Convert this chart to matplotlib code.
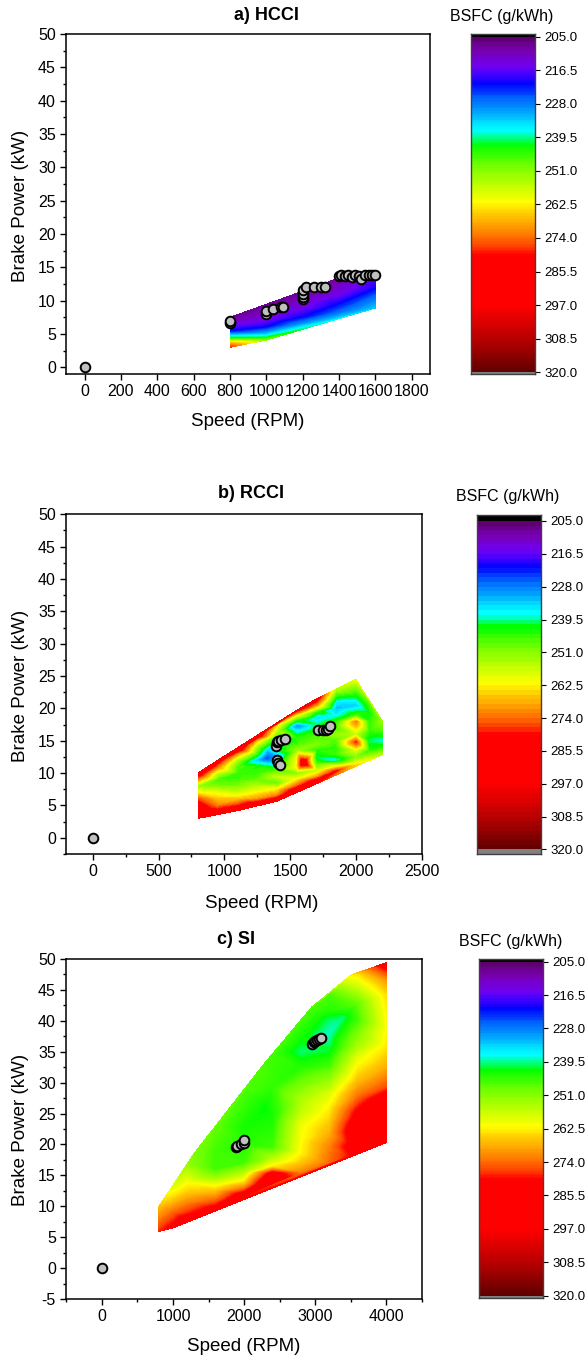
import numpy as np
import matplotlib
matplotlib.use('Agg')
import matplotlib.pyplot as plt
import matplotlib.tri as mtri
from matplotlib.colors import LinearSegmentedColormap, Normalize
from matplotlib.ticker import MultipleLocator, FixedLocator

plt.rcParams['font.family'] = 'Liberation Sans'
plt.rcParams['axes.unicode_minus'] = False

# ---------------- colour scale (BSFC, g/kWh) ----------------
cb_ticks = [205.0, 216.5, 228.0, 239.5, 251.0, 262.5, 274.0, 285.5, 297.0, 308.5, 320.0]
cmap_vals = [205, 210, 215, 218, 221, 226, 231, 235, 237, 239.5, 242, 249, 256, 261.5,
             266, 271, 276, 280, 297, 305, 312, 320]
cmap_cols = ['#5c0068', '#7800b4', '#7000f0', '#4000ff', '#0000ff', '#0064ff', '#00a8ff',
             '#00e8ff', '#00ffff', '#00ff90', '#00ff00', '#70ff00', '#c0ff00', '#ffff00',
             '#ffc800', '#ff9000', '#ff5000', '#ff0000', '#ff0000', '#d00000', '#a00000',
             '#600000']

# ---------------- a) HCCI ----------------
hcci_speed = [800] * 8 + [1000] * 6 + [1200] * 5 + [1400] * 5 + [1600] * 4
hcci_power = [3.0, 3.4, 3.85, 4.35, 4.85, 5.35, 6.1, 7.5,
              4.1, 4.5, 5.0, 6.0, 7.0, 9.3,
              5.7, 6.5, 7.5, 9.0, 11.2,
              7.35, 8.2, 9.5, 11.0, 13.4,
              8.9, 10.5, 12.0, 14.0]
hcci_bsfc = [278, 272, 262, 243, 233, 222, 216, 208,
             250, 241, 233, 221, 215, 208,
             240, 230, 221, 214, 208,
             234, 227, 221, 214, 209,
             233, 227, 220, 215]
hcci_op_speed = [0, 800, 800, 1000, 1000, 1035, 1080, 1090, 1200, 1200, 1200, 1200, 1220, 1260,
                 1300, 1320, 1400, 1410, 1430, 1450, 1470, 1490, 1510, 1520, 1540, 1565,
                 1580, 1595]
hcci_op_power = [0, 6.6, 7.0, 8.0, 8.4, 8.75, 9.0, 9.1, 10.3, 10.6, 11.0, 11.6, 12.0, 12.0,
                 12.1, 12.1, 13.7, 13.8, 13.7, 13.8, 13.6, 13.8, 13.7, 13.2, 13.9, 13.9,
                 13.8, 13.9]

# ---------------- b) RCCI ----------------
rcci_speed = ([800] * 8 + [950] * 9 + [1100] * 11 + [1250] * 12 + [1320, 1330]
              + [1400] * 13 + [1550] * 14 + [1600] + [1700] * 14 + [1850] * 14
              + [2000] * 11 + [2100] * 7 + [2200] * 5)
rcci_power = [3, 4, 5, 6, 7, 8, 9, 10,
              3.7, 5, 6, 7, 8, 9, 10, 11, 12,
              4.2, 5, 6, 7, 8, 9, 10, 11, 12, 13, 13.8,
              5.0, 6, 7, 8, 9, 10, 11, 12, 13, 14, 15, 15.8,
              12.3, 13.5,
              5.65, 6.5, 7.5, 8.5, 9.5, 10.5, 11.5, 12.5, 13.5, 14.5, 15.5, 16.5, 17.5,
              7.2, 8, 9, 10, 11, 12.5, 13.5, 14.5, 15.5, 16.5, 17.3, 18.2, 19, 19.7,
              11.6,
              8.75, 9.5, 10.5, 11.5, 12.5, 13.5, 14.5, 15.5, 16.5, 17.5, 18.5, 19.5, 20.5, 21.5,
              10.3, 11, 12, 13, 14, 15, 16, 17, 18, 19, 20, 21, 22, 23,
              11.4, 12.5, 13.5, 14.8, 16, 17.9, 19, 20.5, 22, 23.5, 24.5,
              12.1, 13.5, 15, 16.5, 18, 19.5, 21.1,
              12.85, 14, 15, 16.5, 18]
rcci_bsfc = [292, 290, 284, 276, 262, 252, 270, 288,
             288, 272, 266, 260, 250, 246, 256, 272, 286,
             290, 278, 266, 257, 250, 246, 245, 247, 254, 270, 290,
             290, 270, 262, 255, 248, 245, 244, 232, 245, 252, 265, 288,
             224, 232,
             292, 272, 262, 248, 256, 246, 238, 230, 240, 238, 244, 255, 264,
             290, 275, 262, 250, 262, 260, 252, 246, 244, 236, 228, 244, 262, 282,
             290,
             285, 268, 255, 246, 240, 244, 250, 247, 244, 240, 234, 245, 270, 285,
             280, 262, 236, 246, 244, 247, 252, 246, 244, 236, 232, 236, 245, 255,
             262, 250, 258, 278, 256, 272, 245, 233, 242, 252, 260,
             258, 244, 240, 245, 244, 242, 248,
             255, 243, 238, 246, 252]
rcci_op_speed = [0, 1390, 1400, 1410, 1430, 1460, 1400, 1410, 1420, 1710, 1750, 1770, 1790, 1800]
rcci_op_power = [0, 14.2, 14.8, 15.0, 15.1, 15.3, 12.0, 11.6, 11.3, 16.6, 16.6, 16.7, 16.8, 17.3]

# ---------------- c) SI ----------------
si_speed = ([800] * 3 + [1000] * 4 + [1200] * 6 + [1300] + [1600] * 8 + [2000] * 9
            + [2250] * 2 + [2300] + [2400] * 8 + [2800] * 12 + [2950] + [3200] * 13
            + [3400] + [3500] * 2 + [3600] * 13 + [4000] * 12)
si_power = [5.9, 8, 10,
            6.5, 9, 11, 13.3,
            7.6, 8.9, 10.5, 12.1, 13.8, 16.8,
            18.6,
            9.7, 11, 12.5, 13.5, 14.5, 16, 19, 22.9,
            11.9, 13, 14, 15.5, 17, 20, 23, 26, 28.8,
            13.2, 32.6,
            26,
            14, 15.3, 16.4, 17.9, 19.5, 24.5, 29.3, 34.6,
            15.4, 17.0, 18.6, 20.8, 23, 25.2, 27.3, 29.5, 32.5, 35, 37.5, 40.0,
            42.2,
            16.9, 19.6, 21.8, 24, 26.1, 28.3, 30.4, 33.1, 35.3, 38, 40, 41.7, 44.5,
            40.5,
            18.1, 47.4,
            18.5, 19.6, 22.3, 25, 27.6, 30.2, 33.7, 35.8, 38, 40.1, 42.8, 45, 47.7,
            20.3, 20.7, 23.9, 27.2, 29.3, 32.6, 35.8, 39, 41.7, 44.4, 46.6, 49.4]
si_bsfc = [278, 272, 266,
           282, 274, 266, 258,
           285, 278, 272, 266, 261, 252,
           250,
           282, 274, 266, 260, 253, 246, 246, 248,
           284, 272, 263, 254, 246, 244, 243, 245, 247,
           288, 247,
           242,
           288, 284, 263, 254, 246, 243, 245, 246,
           272, 266, 262, 261, 260, 256, 254, 250, 244, 240, 243, 246,
           247,
           274, 272, 268, 265, 262, 258, 252, 245, 241, 238, 240, 244, 247,
           240,
           280, 262,
           282, 286, 288, 282, 274, 267, 260, 254, 250, 246, 248, 255, 264,
           285, 288, 288, 286, 276, 268, 263, 261, 262, 264, 270, 285]
si_op_speed = [0, 1880, 1900, 1950, 2000, 2005, 2950, 2980, 3000, 3030, 3060, 3080]
si_op_power = [0, 19.6, 19.8, 20.0, 20.2, 20.7, 36.3, 36.5, 36.7, 36.9, 37.1, 37.3]

W, H = 585, 1360
cmap = LinearSegmentedColormap.from_list(
    'bsfc', list(zip([(v - 205) / 115 for v in cmap_vals], cmap_cols)))
norm = Normalize(205, 320)

fig = plt.figure(figsize=(W / 100, H / 100), dpi=100)


def rect(l, t, r, b):
    return [l / W, 1 - b / H, (r - l) / W, (b - t) / H]


def put(x, y, s, **kw):
    fig.text(x / W, 1 - y / H, s, ha='center', va='center', **kw)


def panel(ax_box, cb_box, sp, pw, bs, op_s, op_p, nlev, xlim, ylim, xmaj, xmin, cb_lim,
          title, title_xy, bsfc_xy, xlab_xy, ylab_xy):
    ax = fig.add_axes(rect(*ax_box))
    # triangulate in axis-scaled units, then contour in data units
    sp = np.asarray(sp, float)
    pw = np.asarray(pw, float)
    kx = (ax_box[2] - ax_box[0]) / (xlim[1] - xlim[0])
    ky = (ax_box[3] - ax_box[1]) / (ylim[1] - ylim[0])
    tri_px = mtri.Triangulation(sp * kx, pw * ky)
    tri = mtri.Triangulation(sp, pw, triangles=tri_px.triangles)
    levels = np.linspace(205, 320, nlev + 1)
    ax.tricontourf(tri, bs, levels=levels, cmap=cmap, norm=norm)
    ax.scatter(op_s, op_p, s=48, facecolor='#c0c0c0', edgecolor='black', linewidth=1.4,
               zorder=5, clip_on=False)
    ax.set_xlim(*xlim)
    ax.set_ylim(*ylim)
    ax.xaxis.set_major_locator(MultipleLocator(xmaj))
    if xmin:
        ax.xaxis.set_minor_locator(MultipleLocator(xmin))
    ax.yaxis.set_major_locator(MultipleLocator(5))
    ax.yaxis.set_minor_locator(MultipleLocator(2.5))
    ax.tick_params(which='major', direction='out', length=4, width=1, labelsize=11.5, pad=3.5)
    ax.tick_params(which='minor', direction='out', length=2.3, width=1)
    for sp_ in ax.spines.values():
        sp_.set_linewidth(1.1)

    # colour bar drawn as a plain axes so the end strips can be shown
    cax = fig.add_axes(rect(*cb_box))
    edges = levels if nlev < 100 else np.linspace(205, 320, 231)
    mids = (edges[:-1] + edges[1:]) / 2
    cax.pcolormesh([0, 1], edges, mids[:, None], cmap=cmap, norm=norm)
    cax.axhspan(cb_lim[1], 205, color='black', lw=0)
    cax.axhspan(320, cb_lim[0], color='#808080', lw=0)
    cax.set_xlim(0, 1)
    cax.set_ylim(*cb_lim)
    cax.set_xticks([])
    cax.yaxis.tick_right()
    cax.yaxis.set_major_locator(FixedLocator(cb_ticks))
    cax.set_yticklabels(['%.1f' % t for t in cb_ticks])
    cax.tick_params(axis='y', direction='out', length=3.5, width=0.8, labelsize=9.5, pad=3)
    for sp_ in cax.spines.values():
        sp_.set_linewidth(1.0)
        sp_.set_color('#404040')

    put(*title_xy, title, fontsize=13, fontweight='bold')
    put(*bsfc_xy, 'BSFC (g/kWh)', fontsize=11.5)
    put(*xlab_xy, 'Speed (RPM)', fontsize=13.5)
    put(*ylab_xy, 'Brake Power (kW)', fontsize=13.5, rotation=90)


panel((66.4, 34, 430, 374), (470.6, 34, 535, 374), hcci_speed, hcci_power, hcci_bsfc,
      hcci_op_speed, hcci_op_power, 230, (-100, 1900), (-1, 50), 200, None, (320.6, 204.1),
      'a) HCCI', (266, 15), (502, 16.5), (248, 421.5), (20.6, 206))

panel((66.4, 514.3, 421.8, 854), (477, 515, 541, 854), rcci_speed, rcci_power, rcci_bsfc,
      rcci_op_speed, rcci_op_power, 70, (-200, 2500), (-2.5, 50), 500, 250, (321.6, 202.9),
      'b) RCCI', (251, 494), (508, 496.7), (262, 903), (20.6, 686))

panel((66.4, 959, 421.8, 1299), (479, 959, 543.3, 1298), si_speed, si_power, si_bsfc,
      si_op_speed, si_op_power, 230, (-500, 4500), (-5, 50), 1000, 500, (320.8, 204.1),
      'c) SI', (236, 939.5), (510.6, 941.7), (243.8, 1346.7), (20.6, 1130))

fig.savefig('out.png', dpi=100)
